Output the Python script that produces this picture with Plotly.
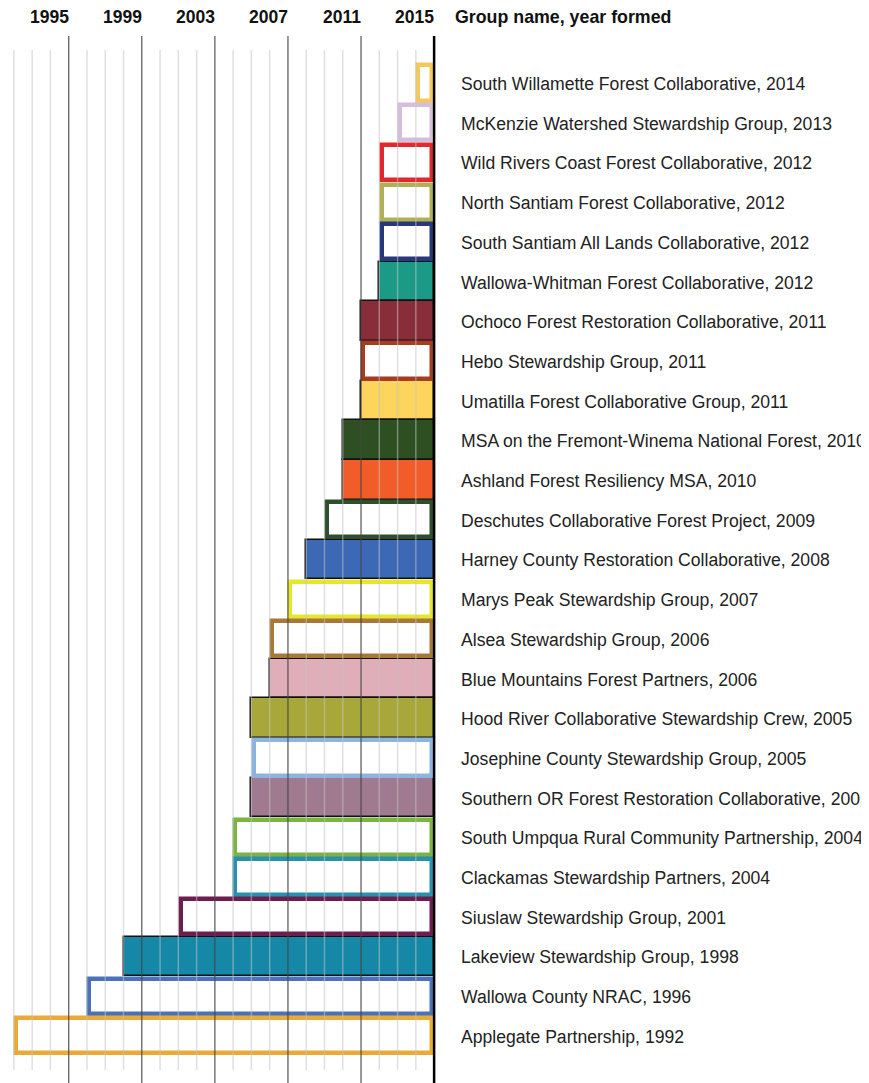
import plotly.graph_objects as go

# ---- data (top to bottom) ----
groups = [
    "South Willamette Forest Collaborative",
    "McKenzie Watershed Stewardship Group",
    "Wild Rivers Coast Forest Collaborative",
    "North Santiam Forest Collaborative",
    "South Santiam All Lands Collaborative",
    "Wallowa-Whitman Forest Collaborative",
    "Ochoco Forest Restoration Collaborative",
    "Hebo Stewardship Group",
    "Umatilla Forest Collaborative Group",
    "MSA on the Fremont-Winema National Forest",
    "Ashland Forest Resiliency MSA",
    "Deschutes Collaborative Forest Project",
    "Harney County Restoration Collaborative",
    "Marys Peak Stewardship Group",
    "Alsea Stewardship Group",
    "Blue Mountains Forest Partners",
    "Hood River Collaborative Stewardship Crew",
    "Josephine County Stewardship Group",
    "Southern OR Forest Restoration Collaborative",
    "South Umpqua Rural Community Partnership",
    "Clackamas Stewardship Partners",
    "Siuslaw Stewardship Group",
    "Lakeview Stewardship Group",
    "Wallowa County NRAC",
    "Applegate Partnership",
]
year_formed = [2014, 2013, 2012, 2012, 2012, 2012, 2011, 2011, 2011, 2010, 2010, 2009, 2008,
               2007, 2006, 2006, 2005, 2005, 2005, 2004, 2004, 2001, 1998, 1996, 1992]
end_year = 2015
first_year = 1992
tick_years = [1995, 1999, 2003, 2007, 2011, 2015]

# ---- styles ----
colors = ["#F3C95E", "#D6BDDB", "#E0282E", "#B2B055", "#27397A", "#1B9A88", "#8A2D3B",
          "#A53D25", "#FDD55C", "#2D4F22", "#F25C28", "#2E4E2E", "#3C68B5", "#E6E62E",
          "#A87838", "#DFAEB8", "#A8A83A", "#8DB3E0", "#A07A91", "#7CB345", "#2A90AE",
          "#6E1D4F", "#1588A8", "#4A72B8", "#EBAA35"]
filled = [False, False, False, False, False, True, True, False, True, True, True, False, True,
          False, False, True, True, False, True, False, False, False, True, False, False]

OFF = 8  # page body margin
W, H = 869 - OFF, 1083 - OFF
PX_PER_YEAR = 18.27
X0 = first_year - (13.9 - OFF) / PX_PER_YEAR
X1 = X0 + W / PX_PER_YEAR
TOP = 50 - OFF
PLOT_BOTTOM = 1070 - OFF
BOT = H - PLOT_BOTTOM
PLOT_H = PLOT_BOTTOM - TOP
PITCH = 39.7
n = len(groups)
y_top = -(83 - OFF - TOP) / PITCH
y_bot = y_top + PLOT_H / PITCH

fig = go.Figure()
ys = list(range(n))
lengths = [end_year - y for y in year_formed]

fi = [i for i in range(n) if filled[i]]
oi = [i for i in range(n) if not filled[i]]
OUT_W = 4.5
inset = (OUT_W / 2) / PX_PER_YEAR
fig.add_trace(go.Bar(
    orientation="h",
    y=[ys[i] for i in fi], x=[lengths[i] for i in fi], base=[year_formed[i] for i in fi],
    width=1.0,
    marker=dict(color=[colors[i] for i in fi], line=dict(color="#111111", width=1.5)),
    hoverinfo="skip", showlegend=False,
))
fig.add_trace(go.Bar(
    orientation="h",
    y=[ys[i] for i in oi], x=[lengths[i] - 2 * inset for i in oi],
    base=[year_formed[i] + inset for i in oi],
    width=1 - OUT_W / PITCH,
    marker=dict(color="white", line=dict(color=[colors[i] for i in oi], width=OUT_W)),
    hoverinfo="skip", showlegend=False,
))

shapes = []
for yr in range(first_year, end_year):
    if yr in tick_years:
        continue
    shapes.append(dict(type="line", xref="x", yref="paper", x0=yr, x1=yr, y0=0, y1=1,
                       layer="above", line=dict(color="rgba(195,195,195,0.55)", width=1.4)))
for yr in tick_years:
    col = "#000000" if yr == end_year else "rgba(70,70,70,0.85)"
    wid = 2.5 if yr == end_year else 1.3
    shapes.append(dict(type="line", xref="x", yref="paper", x0=yr, x1=yr,
                       y0=-BOT / PLOT_H - 0.01, y1=1 + 14 / PLOT_H,
                       layer="above", line=dict(color=col, width=wid)))

ann = []
head_y = 1 + (TOP - (17 - OFF)) / PLOT_H
FONT = "Liberation Sans, Arial, sans-serif"
for yr in tick_years:
    ann.append(dict(x=yr, xref="x", y=head_y, yref="paper", text=f"<b>{yr}</b>",
                    xanchor="right", yanchor="middle", xshift=2, showarrow=False,
                    font=dict(family=FONT, size=17.5, color="#111")))
ann.append(dict(x=(453 - OFF) / W, xref="paper", y=head_y, yref="paper",
                text="<b>Group name, year formed</b>", xanchor="left", yanchor="middle",
                showarrow=False, font=dict(family=FONT, size=17.8, color="#111")))
for i in range(n):
    ann.append(dict(x=(459 - OFF) / W, xref="paper", y=ys[i], yref="y",
                    text=f"{groups[i]}, {year_formed[i]}", xanchor="left", yanchor="middle",
                    yshift=-1, showarrow=False,
                    font=dict(family=FONT, size=17.6, color="#222")))

fig.update_layout(
    width=W, height=H,
    margin=dict(l=0, r=0, t=TOP, b=BOT),
    paper_bgcolor="white", plot_bgcolor="white",
    barmode="overlay", bargap=0,
    xaxis=dict(range=[X0, X1], visible=False, fixedrange=True),
    yaxis=dict(range=[y_bot, y_top], visible=False, fixedrange=True),
    shapes=shapes, annotations=ann,
)
fig.write_html("out.html")
